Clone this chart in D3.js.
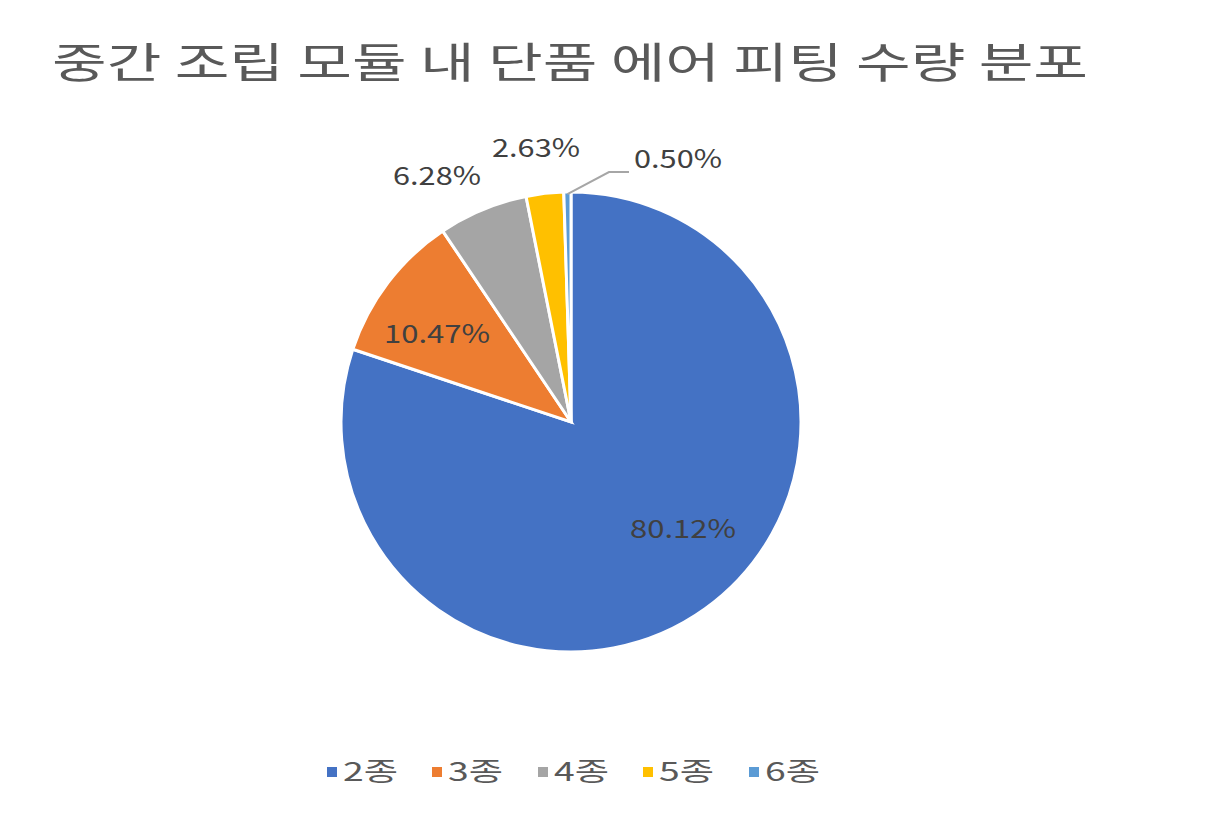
<!DOCTYPE html>
<html><head><meta charset="utf-8">
<script src="https://cdn.jsdelivr.net/npm/d3@7"></script>
<style>body{margin:0;background:#fff}</style></head>
<body><svg id="c" width="1205" height="820"></svg>
<script>
const categories = ["2종","3종","4종","5종","6종"];
const values = [80.12,10.47,6.28,2.63,0.50];
const labels = ["80.12%","10.47%","6.28%","2.63%","0.50%"];
const colors = ["#4472C4","#ED7D31","#A5A5A5","#FFC000","#5B9BD5"];
const font = "'Noto Sans CJK KR','Noto Sans',sans-serif";
const svg = d3.select("#c");
svg.append("text").attr("x",52).attr("y",78).attr("font-family",font).attr("font-size",42).attr("fill","#595959")
  .attr("textLength",1036).attr("lengthAdjust","spacingAndGlyphs").text("중간 조립 모듈 내 단품 에어 피팅 수량 분포");
const cx=571, cy=422, r=230;
const pie = d3.pie().sort(null).value(d=>d)(values);
const arc = d3.arc().innerRadius(0).outerRadius(r);
const g = svg.append("g").attr("transform",`translate(${cx},${cy})`);
g.selectAll("path").data(pie).join("path").attr("d",arc).attr("fill",(d,i)=>colors[i]).attr("stroke","#fff").attr("stroke-width",3);
const lp = [[112,109],[-134,-86],[-134,-244],[-35,-272],[107,-261]];
pie.forEach((d,i)=>{
  const [x,y]=lp[i];
  const w = labels[i].length===6?106:88;
  g.append("text").attr("x",x-w/2).attr("y",y).attr("dominant-baseline","middle")
   .attr("font-family",font).attr("font-size",25).attr("fill","#404040")
   .attr("textLength",w).attr("lengthAdjust","spacingAndGlyphs").text(labels[i]);
});
const d5=pie[4], a=(d5.startAngle+d5.endAngle)/2;
g.append("polyline").attr("points",[[Math.sin(a)*(r-2),-Math.cos(a)*(r-2)],[38,-250],[58,-250]].map(p=>p.join(",")).join(" "))
 .attr("fill","none").attr("stroke","#A6A6A6").attr("stroke-width",2);
const lg = svg.append("g");
const lx=[327,432,538,643,749];
categories.forEach((c,i)=>{
  lg.append("rect").attr("x",lx[i]).attr("y",767).attr("width",10).attr("height",10).attr("fill",colors[i]);
  lg.append("text").attr("x",lx[i]+16).attr("y",774).attr("dominant-baseline","middle").attr("font-family",font).attr("font-size",26).attr("fill","#595959")
   .attr("textLength",55).attr("lengthAdjust","spacingAndGlyphs").text(c);
});
</script></body></html>
